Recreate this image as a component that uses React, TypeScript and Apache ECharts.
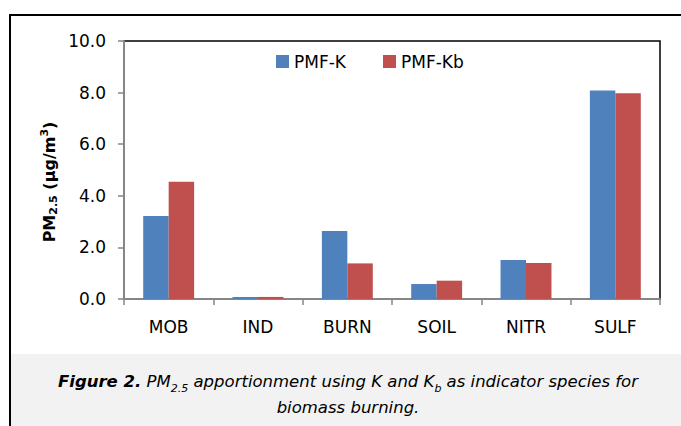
import React, { useEffect, useRef } from "react";
import * as echarts from "echarts";

const categories = ["MOB", "IND", "BURN", "SOIL", "NITR", "SULF"];
const pmfK = [3.22, 0.08, 2.64, 0.58, 1.51, 8.08];
const pmfKb = [4.54, 0.08, 1.38, 0.71, 1.4, 7.97];
const seriesNames = ["PMF-K", "PMF-Kb"];
const yTicks = { min: 0, max: 10, interval: 2 };

export default function App() {
  const ref = useRef<HTMLDivElement>(null);
  useEffect(() => {
    document.body.style.margin = "0";
    const chart = echarts.init(ref.current!, null, { renderer: "svg" });
    const labelFont = "DejaVu Sans";
    chart.setOption({
      animation: false,
      backgroundColor: "#ffffff",
      grid: {
        left: 124,
        right: 21,
        top: 41,
        bottom: 127,
        show: true,
        borderColor: "#000000",
        borderWidth: 1.5,
        backgroundColor: "transparent",
      },
      legend: {
        data: seriesNames,
        left: 276,
        top: 53,
        padding: 0,
        icon: "rect",
        itemWidth: 13,
        itemHeight: 13,
        itemGap: 37,
        textStyle: { fontFamily: labelFont, fontSize: 17, color: "#000" },
      },
      xAxis: {
        type: "category",
        data: categories,
        axisLine: { lineStyle: { color: "#868686", width: 2 } },
        axisTick: { show: true, length: 6, lineStyle: { color: "#868686", width: 1.5 } },
        axisLabel: { fontFamily: labelFont, fontSize: 17, color: "#000", margin: 19 },
      },
      yAxis: {
        type: "value",
        min: yTicks.min,
        max: yTicks.max,
        interval: yTicks.interval,
        splitLine: { show: false },
        axisLine: { show: true, lineStyle: { color: "#868686", width: 2 } },
        axisTick: { show: true, length: 6, lineStyle: { color: "#868686", width: 1.5 } },
        axisLabel: {
          fontFamily: labelFont,
          fontSize: 17,
          color: "#000",
          margin: 18,
          formatter: (v: number) => v.toFixed(1),
        },
      },
      series: [
        {
          name: seriesNames[0],
          type: "bar",
          data: pmfK,
          barGap: "0%",
          barCategoryGap: "43%",
          itemStyle: { color: "#4F81BD" },
        },
        {
          name: seriesNames[1],
          type: "bar",
          data: pmfKb,
          barGap: "0%",
          barCategoryGap: "43%",
          itemStyle: { color: "#C0504D" },
        },
      ],
      graphic: [
        {
          type: "rect",
          z: 0,
          shape: { x: 11, y: 354, width: 680, height: 80 },
          style: { fill: "#f2f2f2" },
        },
        {
          type: "rect",
          z: 1,
          shape: { x: 10, y: 15, width: 700, height: 500 },
          style: { fill: "none", stroke: "#000", lineWidth: 2 },
        },
        {
          type: "text",
          z: 2,
          x: 49,
          y: 182,
          rotation: Math.PI / 2,
          style: {
            text: "{m|PM}{s|2.5}{m| (µg/m}{p|3}{m|)}",
            align: "center",
            verticalAlign: "middle",
            fill: "#000",
            rich: {
              m: { fontFamily: labelFont, fontSize: 16, fontWeight: "bold", lineHeight: 20 },
              s: {
                fontFamily: labelFont,
                fontSize: 11,
                fontWeight: "bold",
                lineHeight: 11,
                verticalAlign: "bottom",
              },
              p: {
                fontFamily: labelFont,
                fontSize: 11,
                fontWeight: "bold",
                lineHeight: 11,
                verticalAlign: "top",
              },
            },
          },
        },
        {
          type: "text",
          z: 2,
          x: 348,
          y: 394,
          style: {
            text:
              "{b|Figure 2.}{i| PM}{s|2.5}{i| apportionment using K and K}{s|b}{i| as indicator species for}\n{i|biomass burning.}",
            align: "center",
            verticalAlign: "middle",
            fill: "#000",
            rich: {
              b: {
                fontFamily: labelFont,
                fontSize: 16.5,
                fontStyle: "italic",
                fontWeight: "bold",
                lineHeight: 26,
              },
              i: {
                fontFamily: labelFont,
                fontSize: 16.5,
                fontStyle: "italic",
                lineHeight: 26,
              },
              s: {
                fontFamily: labelFont,
                fontSize: 11,
                fontStyle: "italic",
                lineHeight: 16,
                verticalAlign: "bottom",
              },
            },
          },
        },
      ],
    });
    return () => chart.dispose();
  }, []);
  return (
    <div
      ref={ref}
      style={{ position: "absolute", left: 0, top: 0, width: 681, height: 426 }}
    />
  );
}
